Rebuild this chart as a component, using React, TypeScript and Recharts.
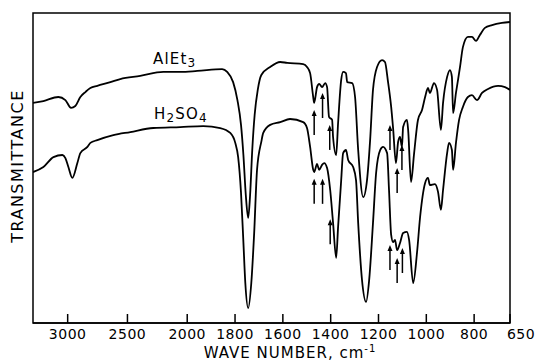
import React from "react"
import {
    ComposedChart,
    Line,
    Scatter,
    XAxis,
    YAxis,
    ReferenceArea,
    ReferenceDot,
} from "recharts"

// wave numbers (cm-1) and transmittance (arbitrary %)
const alEt3Wn = [
    3290, 3203, 3078, 3019, 2972, 2936, 2894, 2852, 2810, 2752, 2643, 2560, 2393, 2200, 2058,
    1958, 1854, 1833, 1808, 1790, 1775, 1765, 1755, 1745, 1737, 1728, 1718, 1705, 1690, 1653,
    1611, 1582, 1515, 1499, 1486, 1473, 1469, 1457, 1448, 1436, 1423, 1415, 1407, 1394, 1390,
    1377, 1369, 1356, 1348, 1336, 1331, 1310, 1298, 1285, 1264, 1248, 1235, 1223, 1206, 1185,
    1173, 1160, 1147, 1139, 1127, 1118, 1110, 1102, 1097, 1081, 1076, 1064, 1051, 1035, 1018,
    1005, 993, 985, 968, 955, 939, 930, 913, 901, 893, 888, 876, 859, 847, 826, 809, 792, 776,
    755, 725, 684, 650,
]
const alEt3T = [
    71.0, 71.6, 72.9, 71.9, 69.4, 70.0, 72.9, 74.5, 75.8, 76.5, 77.7, 78.7, 79.7, 81.0, 81.0,
    81.3, 81.9, 81.0, 77.7, 71.9, 63.9, 54.2, 41.3, 33.9, 41.3, 55.8, 67.1, 75.2, 80.0, 82.6,
    84.2, 83.9, 83.5, 82.6, 80.6, 72.9, 71.0, 76.1, 77.1, 76.1, 77.4, 76.1, 66.5, 65.5, 60.0,
    54.2, 64.5, 78.4, 81.0, 80.6, 77.7, 77.4, 72.9, 55.8, 40.6, 46.1, 59.0, 75.2, 82.6, 84.8,
    84.2, 77.7, 69.7, 62.9, 51.6, 58.4, 60.0, 56.8, 63.2, 65.5, 62.3, 45.5, 54.8, 65.5, 68.7,
    72.9, 75.8, 74.2, 77.4, 75.2, 62.3, 71.0, 79.4, 81.6, 79.4, 67.7, 74.2, 82.6, 89.0, 92.3,
    92.3, 91.0, 92.9, 95.2, 96.1, 96.8, 97.1,
]

const h2so4Wn = [
    3290, 3203, 3119, 3044, 3019, 2994, 2961, 2919, 2894, 2835, 2810, 2752, 2618, 2476, 2284,
    2058, 1933, 1862, 1820, 1799, 1787, 1775, 1765, 1757, 1745, 1732, 1720, 1708, 1690, 1682,
    1653, 1611, 1570, 1515, 1499, 1486, 1473, 1469, 1457, 1448, 1436, 1427, 1415, 1402, 1390,
    1377, 1369, 1356, 1348, 1336, 1327, 1306, 1294, 1285, 1269, 1252, 1239, 1223, 1210, 1193,
    1181, 1164, 1156, 1147, 1139, 1131, 1122, 1110, 1097, 1081, 1072, 1055, 1039, 1026, 1005,
    993, 985, 964, 951, 939, 930, 913, 905, 893, 888, 876, 863, 847, 826, 809, 788, 767, 742,
    700, 671, 650,
]
const h2so4T = [
    48.7, 50.3, 53.5, 54.2, 53.2, 50.3, 46.8, 51.6, 54.8, 56.8, 58.1, 59.0, 60.6, 61.6, 62.9,
    63.2, 63.5, 62.9, 61.3, 58.1, 53.5, 42.0, 26.0, 12.9, 4.8, 12.9, 29.0, 49.4, 58.5, 61.3,
    63.9, 64.8, 65.8, 64.8, 62.9, 56.8, 49.4, 48.7, 51.3, 49.4, 51.0, 51.6, 50.0, 42.9, 32.3,
    21.0, 31.0, 46.1, 54.8, 55.8, 52.6, 50.3, 46.1, 32.3, 13.9, 6.8, 13.9, 32.3, 48.4, 55.8,
    56.8, 54.8, 42.9, 28.4, 26.1, 26.8, 23.5, 25.8, 29.0, 29.4, 26.8, 12.9, 22.6, 34.2, 45.2,
    46.8, 44.5, 44.8, 42.3, 36.5, 42.9, 54.8, 58.1, 55.8, 49.4, 58.1, 65.5, 69.7, 72.9, 73.5,
    71.9, 74.2, 75.5, 76.5, 76.1, 75.2,
]

// arrows marking bands (wave number, transmittance at arrow tip)
const arrowWn = [1469, 1434, 1404, 1152, 1122, 1102, 1469, 1434, 1402, 1152, 1122, 1100]
const arrowT = [68.7, 74.2, 63.9, 63.9, 50.0, 57.4, 46.5, 46.5, 33.5, 25.2, 21.0, 24.2]

const xTicks = [3000, 2500, 2000, 1800, 1600, 1400, 1200, 1000, 800, 650]
const wnMax = 3290
const wnMin = 650

// the chart paper is compressed by 2 above 2000 cm-1
const toU = (wn: number) => (wn <= 2000 ? 2000 - wn : (2000 - wn) / 2)
const fromU = (u: number) => Math.round(u >= 0 ? 2000 - u : 2000 - 2 * u)

const alEt3Data = alEt3Wn.map((w, i) => ({ u: toU(w), t: alEt3T[i] }))
const h2so4Data = h2so4Wn.map((w, i) => ({ u: toU(w), t: h2so4T[i] }))
const arrowData = arrowWn.map((w, i) => ({ u: toU(w), t: arrowT[i] }))

const font = "'DejaVu Sans', sans-serif"

function AxisTick(props: any) {
    const { x, y, payload } = props
    const wn = fromU(payload.value)
    const dx = wn === 650 ? 11 : 0
    return (
        <g>
            <line x1={x} x2={x} y1={y} y2={y - 9} stroke="#000" strokeWidth={1.5} />
            <text
                x={x + dx}
                y={y + 16}
                textAnchor="middle"
                fontFamily={font}
                fontSize={14}
                letterSpacing={0.5}
                fill="#000"
            >
                {wn}
            </text>
        </g>
    )
}

function Arrow(props: any) {
    const { cx, cy } = props
    return (
        <g>
            <line x1={cx} x2={cx} y1={cy + 3} y2={cy + 25} stroke="#000" strokeWidth={1.5} />
            <polygon points={`${cx},${cy} ${cx - 2.5},${cy + 6} ${cx + 2.5},${cy + 6}`} fill="#000" />
        </g>
    )
}

export default function App() {
    return (
        <div style={{ position: "absolute", left: 0, top: 0, width: 540, height: 363, background: "#fff" }}>
            <ComposedChart
                width={540}
                height={363}
                margin={{ top: 13, right: 30, bottom: 0, left: 33 }}
            >
                <XAxis
                    dataKey="u"
                    type="number"
                    domain={[toU(wnMax), toU(wnMin)]}
                    ticks={xTicks.map(toU)}
                    interval={0}
                    height={40}
                    tickSize={0}
                    tickMargin={0}
                    tickLine={false}
                    axisLine={{ stroke: "#000", strokeWidth: 1.5 }}
                    tick={(p: any) => <AxisTick {...p} />}
                    allowDataOverflow
                />
                <YAxis hide type="number" domain={[0, 100]} />
                <ReferenceArea
                    x1={toU(wnMax)}
                    x2={toU(wnMin)}
                    y1={0}
                    y2={100}
                    fill="none"
                    stroke="#000"
                    strokeWidth={1.5}
                />
                <Line
                    data={alEt3Data}
                    dataKey="t"
                    type="monotone"
                    stroke="#000"
                    strokeWidth={1.8}
                    dot={false}
                    isAnimationActive={false}
                />
                <Line
                    data={h2so4Data}
                    dataKey="t"
                    type="monotone"
                    stroke="#000"
                    strokeWidth={1.8}
                    dot={false}
                    isAnimationActive={false}
                />
                <Scatter
                    data={arrowData}
                    dataKey="t"
                    shape={(p: any) => <Arrow {...p} />}
                    isAnimationActive={false}
                />
                <ReferenceDot
                    x={toU(2286)}
                    y={83.5}
                    r={0}
                    shape={(p: any) => (
                        <text x={p.cx} y={p.cy} fontFamily={font} fontSize={15} letterSpacing={1.2} fill="#000">
                            AlEt<tspan fontSize={12} dy={3}>3</tspan>
                        </text>
                    )}
                />
                <ReferenceDot
                    x={toU(2278)}
                    y={65.8}
                    r={0}
                    shape={(p: any) => (
                        <text x={p.cx} y={p.cy} fontFamily={font} fontSize={15} letterSpacing={1.2} fill="#000">
                            H<tspan fontSize={12} dy={3}>2</tspan>
                            <tspan dy={-3}>SO</tspan>
                            <tspan fontSize={12} dy={3}>4</tspan>
                        </text>
                    )}
                />
            </ComposedChart>
            <svg
                width={540}
                height={363}
                style={{ position: "absolute", left: 0, top: 0, pointerEvents: "none" }}
            >
                <text
                    x={290}
                    y={358}
                    textAnchor="middle"
                    fontFamily={font}
                    fontSize={15}
                    letterSpacing={1}
                    fill="#000"
                >
                    WAVE NUMBER, cm<tspan fontSize={10} dy={-6}>-1</tspan>
                </text>
                <text
                    transform="translate(23,166) rotate(-90)"
                    textAnchor="middle"
                    fontFamily={font}
                    fontSize={16}
                    letterSpacing={1.5}
                    fill="#000"
                >
                    TRANSMITTANCE
                </text>
            </svg>
        </div>
    )
}
